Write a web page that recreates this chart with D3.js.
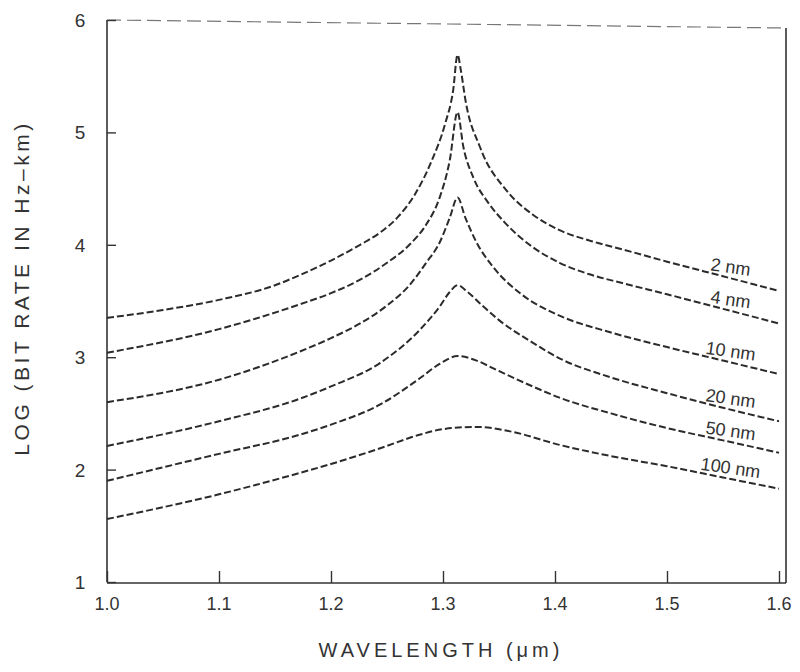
<!DOCTYPE html>
<html>
<head>
<meta charset="utf-8">
<script src="https://cdn.jsdelivr.net/npm/d3@7"></script>
<style>
  body { margin: 0; background: #fff; }
  svg text { font-family: "Liberation Sans", Arial, sans-serif; fill: #333; }
</style>
</head>
<body>
<svg id="chart" width="800" height="672"></svg>
<script>
// wavelength (um) / log bit rate pairs
const curve2nm = [[1.0,3.35],[1.05,3.42],[1.1,3.51],[1.15,3.64],[1.172,3.73],[1.2,3.86],[1.226,4.00],[1.244,4.11],[1.26,4.25],[1.275,4.45],[1.29,4.75],[1.302,5.08],[1.309,5.37],[1.313,5.69],
  [1.316,5.55],[1.32,5.29],[1.333,4.87],[1.357,4.48],[1.38,4.27],[1.404,4.13],[1.43,4.04],[1.46,3.96],[1.5,3.85],[1.55,3.72],[1.6,3.59]];
const curve4nm = [[1.0,3.04],[1.1,3.25],[1.172,3.47],[1.2,3.57],[1.226,3.69],[1.25,3.84],[1.27,4.00],[1.285,4.18],[1.297,4.42],[1.306,4.75],[1.313,5.18],
  [1.318,4.88],[1.327,4.60],[1.34,4.38],[1.355,4.20],[1.38,3.98],[1.404,3.84],[1.43,3.74],[1.46,3.66],[1.5,3.56],[1.55,3.43],[1.6,3.30]];
const curve10nm = [[1.0,2.60],[1.1,2.80],[1.172,3.05],[1.2,3.17],[1.226,3.30],[1.25,3.46],[1.27,3.64],[1.285,3.84],[1.297,4.02],[1.306,4.24],[1.313,4.42],
  [1.32,4.24],[1.33,4.02],[1.345,3.80],[1.37,3.56],[1.404,3.37],[1.45,3.22],[1.5,3.09],[1.55,2.97],[1.6,2.85]];
const curve20nm = [[1.0,2.21],[1.1,2.43],[1.172,2.63],[1.2,2.74],[1.244,2.95],[1.279,3.24],[1.297,3.45],[1.306,3.58],[1.313,3.64],
  [1.322,3.58],[1.335,3.46],[1.35,3.33],[1.38,3.13],[1.404,2.99],[1.45,2.82],[1.5,2.68],[1.55,2.55],[1.6,2.43]];
const curve50nm = [[1.0,1.90],[1.1,2.14],[1.172,2.31],[1.2,2.40],[1.244,2.58],[1.279,2.81],[1.297,2.94],[1.313,3.01],
  [1.33,2.97],[1.345,2.90],[1.38,2.74],[1.404,2.64],[1.45,2.50],[1.5,2.37],[1.55,2.26],[1.6,2.15]];
const curve100nm = [[1.0,1.56],[1.1,1.78],[1.172,1.97],[1.2,2.05],[1.244,2.19],[1.279,2.31],[1.3,2.36],[1.33,2.38],
  [1.36,2.34],[1.404,2.22],[1.45,2.12],[1.5,2.03],[1.55,1.93],[1.6,1.83]];

const curves = [curve2nm, curve4nm, curve10nm, curve20nm, curve50nm, curve100nm];
const curveLabels = ["2 nm", "4 nm", "10 nm", "20 nm", "50 nm", "100 nm"];
const xTicks = [1.0, 1.1, 1.2, 1.3, 1.4, 1.5, 1.6];
const xTickLabels = ["1.0", "1.1", "1.2", "1.3", "1.4", "1.5", "1.6"];
const yTicks = [1, 2, 3, 4, 5, 6];

const svg = d3.select("#chart");

const x = d3.scaleLinear().domain([1.0, 1.6]).range([107, 779]);
const y = d3.scaleLinear().domain([1, 6]).range([582, 20]);

const ink = "#333";

// frame
svg.append("line")
    .attr("x1", x(1.0)).attr("x2", x(1.0))
    .attr("y1", y(6)).attr("y2", y(1))
    .attr("stroke", ink).attr("stroke-width", 1.6);
svg.append("line")
    .attr("x1", x(1.0)).attr("x2", x(1.6) + 7)
    .attr("y1", y(1) + 1).attr("y2", y(1) + 1)
    .attr("stroke", ink).attr("stroke-width", 1.6);
svg.append("line")
    .attr("x1", x(1.6) + 7).attr("x2", x(1.6) + 7)
    .attr("y1", y(6) + 8).attr("y2", y(1) + 1)
    .attr("stroke", ink).attr("stroke-width", 1.6);
svg.append("line")
    .attr("x1", x(1.0)).attr("x2", x(1.6) + 7)
    .attr("y1", y(6)).attr("y2", y(6) + 8)
    .attr("stroke", "#777").attr("stroke-width", 1.2)
    .attr("stroke-dasharray", "14 6");

// ticks, pointing inward
const yAxis = svg.append("g")
    .attr("transform", `translate(${x(1.0)},0)`)
    .call(d3.axisRight(y).tickValues(yTicks).tickSize(9).tickFormat(""));
yAxis.select(".domain").remove();
yAxis.selectAll("line").attr("stroke", ink).attr("stroke-width", 1.4);

svg.selectAll(".ylab")
    .data(yTicks)
  .enter().append("text")
    .attr("x", 80)
    .attr("y", d => y(d) + 7)
    .attr("text-anchor", "middle")
    .attr("font-size", 19)
    .text(d => d);

const xAxis = svg.append("g")
    .attr("transform", `translate(0,${y(1) + 1})`)
    .call(d3.axisTop(x).tickValues(xTicks).tickSize(12).tickFormat(""));
xAxis.select(".domain").remove();
xAxis.selectAll("line").attr("stroke", ink).attr("stroke-width", 1.4);

svg.selectAll(".xlab")
    .data(xTicks)
  .enter().append("text")
    .attr("x", d => x(d))
    .attr("y", 610)
    .attr("text-anchor", "middle")
    .attr("font-size", 18)
    .text((d, i) => xTickLabels[i]);

// axis titles
svg.append("text")
    .attr("x", 441)
    .attr("y", 657)
    .attr("text-anchor", "middle")
    .attr("font-size", 20)
    .attr("letter-spacing", 4)
    .text("WAVELENGTH (\u03bcm)");

svg.append("text")
    .attr("transform", "translate(29,288) rotate(-90)")
    .attr("text-anchor", "middle")
    .attr("font-size", 21)
    .attr("letter-spacing", 3.5)
    .text("LOG (BIT RATE IN Hz\u2013km)");

// curves
const line = d3.line()
    .x(d => x(d[0]))
    .y(d => y(d[1]))
    .curve(d3.curveMonotoneX);

svg.selectAll(".curve")
    .data(curves)
  .enter().append("path")
    .attr("fill", "none")
    .attr("stroke", "#2b2b2b")
    .attr("stroke-width", 2)
    .attr("stroke-dasharray", "7 3")
    .attr("d", line);

// curve labels sitting just above each curve near the right end
function valueAt(pts, w) {
  for (let i = 1; i < pts.length; i++) {
    if (pts[i][0] >= w) {
      const t = (w - pts[i - 1][0]) / (pts[i][0] - pts[i - 1][0]);
      return pts[i - 1][1] + t * (pts[i][1] - pts[i - 1][1]);
    }
  }
  return pts[pts.length - 1][1];
}

const labelW = 1.556;
svg.selectAll(".clab")
    .data(curves)
  .enter().append("text")
    .attr("text-anchor", "middle")
    .attr("font-size", 18)
    .attr("transform", d => `translate(${x(labelW)},${y(valueAt(d, labelW)) - 5}) rotate(8)`)
    .text((d, i) => curveLabels[i]);
</script>
</body>
</html>
